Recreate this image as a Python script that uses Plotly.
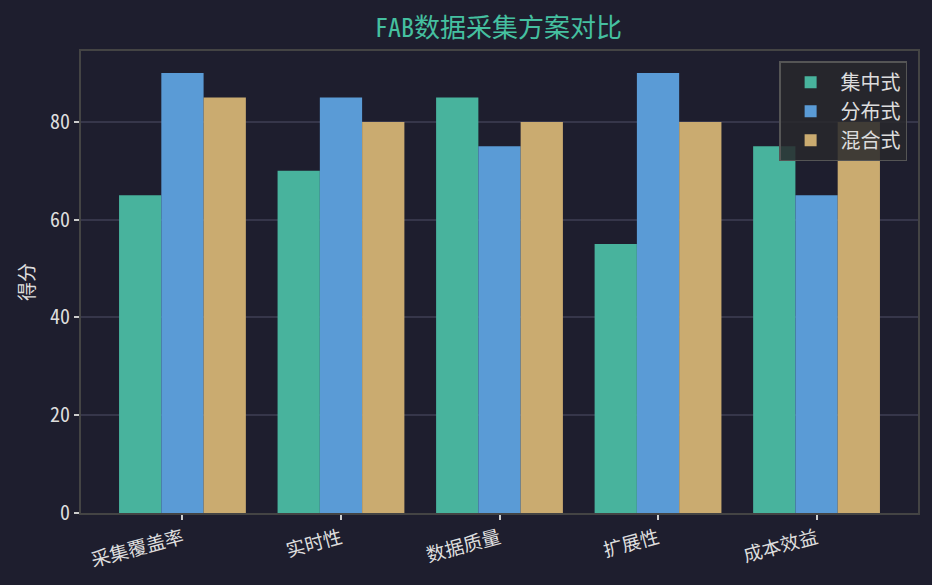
import plotly.graph_objects as go

categories = ["采集覆盖率", "实时性", "数据质量", "扩展性", "成本效益"]
series_names = ["集中式", "分布式", "混合式"]
centralized = [65, 70, 85, 55, 75]
distributed = [90, 85, 75, 90, 65]
hybrid = [85, 80, 80, 80, 80]
y_ticks = [0, 20, 40, 60, 80]

colors = ["#48b39d", "#5a9bd6", "#caab70"]
FONT = "Noto Sans Mono CJK SC, Noto Sans CJK SC, DejaVu Sans, sans-serif"

fig = go.Figure()
for name, vals, c in zip(series_names, [centralized, distributed, hybrid], colors):
    fig.add_trace(go.Bar(x=list(range(len(categories))), y=vals, name=name,
                         marker=dict(color=c, line=dict(width=0))))

fig.update_layout(
    width=932, height=585,
    paper_bgcolor="#1e1e2e", plot_bgcolor="#1e1e2e",
    barmode="group", bargap=0.2, bargroupgap=0,
    margin=dict(l=81, r=14, t=51, b=72),
    font=dict(family=FONT, color="#dddddd", size=18),
    title=dict(text="FAB数据采集方案对比", x=0.535, xanchor="center", y=0.952, yanchor="middle",
               font=dict(size=26, color="#45c0a0", family=FONT)),
    showlegend=True,
    legend=dict(x=0.987, y=0.978, xanchor="right", yanchor="top",
                bgcolor="rgba(40,40,44,0.85)", bordercolor="#555555", borderwidth=1.5,
                font=dict(size=20, color="#dddddd", family=FONT),
                itemwidth=50, tracegroupgap=3),
)
fig.update_xaxes(
    range=[-0.64, 4.64], tickmode="array", tickvals=list(range(len(categories))),
    ticktext=categories, tickangle=-15, ticks="outside", ticklen=5, tickwidth=1.5,
    tickcolor="#cccccc", showgrid=False, showline=True, linecolor="#444444", linewidth=2,
    mirror=True, zeroline=False, tickfont=dict(size=19, color="#dddddd"),
)
fig.update_yaxes(
    range=[0, 94.5], tickmode="array", tickvals=y_ticks, ticks="outside", ticklen=5,
    tickwidth=1.5, tickcolor="#cccccc", showgrid=True, gridcolor="#36364a", gridwidth=1.5,
    showline=True, linecolor="#444444", linewidth=2, mirror=True, zeroline=False,
    layer="above traces", tickfont=dict(size=20, color="#dddddd"),
    title=dict(text="得分", font=dict(size=19, color="#dddddd"), standoff=10),
)

fig.write_html("out.html", config={"displayModeBar": False},
               post_script="document.body.style.margin='0';document.body.style.overflow='hidden';")
